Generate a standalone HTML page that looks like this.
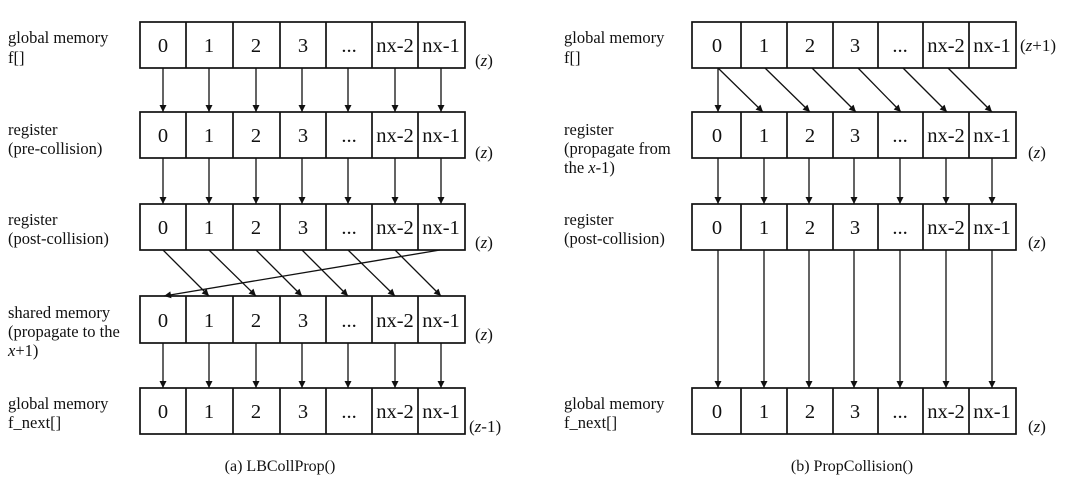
<!DOCTYPE html>
<html><head><meta charset="utf-8"><style>
html,body{margin:0;padding:0;background:#fff}
svg{display:block}
text{font-family:"Liberation Serif",serif;fill:#111}
.c{font-size:20.5px;text-anchor:middle}
.l{font-size:16.5px}
.z{font-size:17px}
.cap{font-size:16px;text-anchor:middle}
rect{fill:none;stroke:#111;stroke-width:1.7}
.a{stroke:#111;stroke-width:1.3;marker-end:url(#ah)}
</style></head><body>
<svg width="1080" height="488" viewBox="0 0 1080 488" xmlns="http://www.w3.org/2000/svg">
<defs><marker id="ah" viewBox="0 0 10 10" refX="10" refY="5" markerWidth="12" markerHeight="7" markerUnits="userSpaceOnUse" orient="auto"><path d="M0,0 L10,5 L0,10 z" fill="#111"/></marker></defs>

<g>
<rect x="140" y="22" width="325" height="46"/>
<rect x="140" y="112" width="325" height="46"/>
<rect x="140" y="204" width="325" height="46"/>
<rect x="140" y="296" width="325" height="47"/>
<rect x="140" y="388" width="325" height="46"/>
</g>
<g stroke="#111" stroke-width="1.7">
<line x1="186" y1="22" x2="186" y2="68"/><line x1="233" y1="22" x2="233" y2="68"/><line x1="280" y1="22" x2="280" y2="68"/><line x1="326" y1="22" x2="326" y2="68"/><line x1="372" y1="22" x2="372" y2="68"/><line x1="418" y1="22" x2="418" y2="68"/>
<line x1="186" y1="112" x2="186" y2="158"/><line x1="233" y1="112" x2="233" y2="158"/><line x1="280" y1="112" x2="280" y2="158"/><line x1="326" y1="112" x2="326" y2="158"/><line x1="372" y1="112" x2="372" y2="158"/><line x1="418" y1="112" x2="418" y2="158"/>
<line x1="186" y1="204" x2="186" y2="250"/><line x1="233" y1="204" x2="233" y2="250"/><line x1="280" y1="204" x2="280" y2="250"/><line x1="326" y1="204" x2="326" y2="250"/><line x1="372" y1="204" x2="372" y2="250"/><line x1="418" y1="204" x2="418" y2="250"/>
<line x1="186" y1="296" x2="186" y2="343"/><line x1="233" y1="296" x2="233" y2="343"/><line x1="280" y1="296" x2="280" y2="343"/><line x1="326" y1="296" x2="326" y2="343"/><line x1="372" y1="296" x2="372" y2="343"/><line x1="418" y1="296" x2="418" y2="343"/>
<line x1="186" y1="388" x2="186" y2="434"/><line x1="233" y1="388" x2="233" y2="434"/><line x1="280" y1="388" x2="280" y2="434"/><line x1="326" y1="388" x2="326" y2="434"/><line x1="372" y1="388" x2="372" y2="434"/><line x1="418" y1="388" x2="418" y2="434"/>
</g>
<g class="c">
<text x="163" y="52">0</text><text x="209" y="52">1</text><text x="256" y="52">2</text><text x="303" y="52">3</text><text x="349" y="52">...</text><text x="395" y="52">nx-2</text><text x="441" y="52">nx-1</text>
<text x="163" y="142">0</text><text x="209" y="142">1</text><text x="256" y="142">2</text><text x="303" y="142">3</text><text x="349" y="142">...</text><text x="395" y="142">nx-2</text><text x="441" y="142">nx-1</text>
<text x="163" y="234">0</text><text x="209" y="234">1</text><text x="256" y="234">2</text><text x="303" y="234">3</text><text x="349" y="234">...</text><text x="395" y="234">nx-2</text><text x="441" y="234">nx-1</text>
<text x="163" y="327">0</text><text x="209" y="327">1</text><text x="256" y="327">2</text><text x="303" y="327">3</text><text x="349" y="327">...</text><text x="395" y="327">nx-2</text><text x="441" y="327">nx-1</text>
<text x="163" y="418">0</text><text x="209" y="418">1</text><text x="256" y="418">2</text><text x="303" y="418">3</text><text x="349" y="418">...</text><text x="395" y="418">nx-2</text><text x="441" y="418">nx-1</text>
</g>
<g>
<line class="a" x1="163" y1="68" x2="163" y2="112"/><line class="a" x1="209" y1="68" x2="209" y2="112"/><line class="a" x1="256" y1="68" x2="256" y2="112"/><line class="a" x1="302" y1="68" x2="302" y2="112"/><line class="a" x1="348" y1="68" x2="348" y2="112"/><line class="a" x1="395" y1="68" x2="395" y2="112"/><line class="a" x1="441" y1="68" x2="441" y2="112"/>
<line class="a" x1="163" y1="158" x2="163" y2="204"/><line class="a" x1="209" y1="158" x2="209" y2="204"/><line class="a" x1="256" y1="158" x2="256" y2="204"/><line class="a" x1="302" y1="158" x2="302" y2="204"/><line class="a" x1="348" y1="158" x2="348" y2="204"/><line class="a" x1="395" y1="158" x2="395" y2="204"/><line class="a" x1="441" y1="158" x2="441" y2="204"/>
<line class="a" x1="163" y1="250" x2="209" y2="296"/><line class="a" x1="209" y1="250" x2="256" y2="296"/><line class="a" x1="256" y1="250" x2="302" y2="296"/><line class="a" x1="302" y1="250" x2="348" y2="296"/><line class="a" x1="348" y1="250" x2="395" y2="296"/><line class="a" x1="395" y1="250" x2="441" y2="296"/>
<line class="a" x1="440" y1="250" x2="164" y2="296"/>
<line class="a" x1="163" y1="343" x2="163" y2="388"/><line class="a" x1="209" y1="343" x2="209" y2="388"/><line class="a" x1="256" y1="343" x2="256" y2="388"/><line class="a" x1="302" y1="343" x2="302" y2="388"/><line class="a" x1="348" y1="343" x2="348" y2="388"/><line class="a" x1="395" y1="343" x2="395" y2="388"/><line class="a" x1="441" y1="343" x2="441" y2="388"/>
</g>
<g class="l">
<text x="8" y="43">global memory</text><text x="8" y="63">f[]</text>
<text x="8" y="135">register</text><text x="8" y="154">(pre-collision)</text>
<text x="8" y="225">register</text><text x="8" y="244">(post-collision)</text>
<text x="8" y="318">shared memory</text><text x="8" y="337">(propagate to the</text><text x="8" y="356"><tspan font-style="italic">x</tspan>+1)</text>
<text x="8" y="409">global memory</text><text x="8" y="428">f_next[]</text>
</g>
<g class="z">
<text x="475" y="66">(<tspan font-style="italic">z</tspan>)</text>
<text x="475" y="158">(<tspan font-style="italic">z</tspan>)</text>
<text x="475" y="248">(<tspan font-style="italic">z</tspan>)</text>
<text x="475" y="340">(<tspan font-style="italic">z</tspan>)</text>
<text x="469" y="432">(<tspan font-style="italic">z</tspan>-1)</text>
</g>
<text class="cap" x="280" y="471">(a)  LBCollProp()</text>

<g>
<rect x="692" y="22" width="324" height="46"/>
<rect x="692" y="112" width="324" height="46"/>
<rect x="692" y="204" width="324" height="46"/>
<rect x="692" y="388" width="324" height="46"/>
</g>
<g stroke="#111" stroke-width="1.7">
<line x1="741" y1="22" x2="741" y2="68"/><line x1="787" y1="22" x2="787" y2="68"/><line x1="833" y1="22" x2="833" y2="68"/><line x1="878" y1="22" x2="878" y2="68"/><line x1="923" y1="22" x2="923" y2="68"/><line x1="969" y1="22" x2="969" y2="68"/>
<line x1="741" y1="112" x2="741" y2="158"/><line x1="787" y1="112" x2="787" y2="158"/><line x1="833" y1="112" x2="833" y2="158"/><line x1="878" y1="112" x2="878" y2="158"/><line x1="923" y1="112" x2="923" y2="158"/><line x1="969" y1="112" x2="969" y2="158"/>
<line x1="741" y1="204" x2="741" y2="250"/><line x1="787" y1="204" x2="787" y2="250"/><line x1="833" y1="204" x2="833" y2="250"/><line x1="878" y1="204" x2="878" y2="250"/><line x1="923" y1="204" x2="923" y2="250"/><line x1="969" y1="204" x2="969" y2="250"/>
<line x1="741" y1="388" x2="741" y2="434"/><line x1="787" y1="388" x2="787" y2="434"/><line x1="833" y1="388" x2="833" y2="434"/><line x1="878" y1="388" x2="878" y2="434"/><line x1="923" y1="388" x2="923" y2="434"/><line x1="969" y1="388" x2="969" y2="434"/>
</g>
<g class="c">
<text x="717" y="52">0</text><text x="764" y="52">1</text><text x="810" y="52">2</text><text x="855" y="52">3</text><text x="900" y="52">...</text><text x="946" y="52">nx-2</text><text x="992" y="52">nx-1</text>
<text x="717" y="142">0</text><text x="764" y="142">1</text><text x="810" y="142">2</text><text x="855" y="142">3</text><text x="900" y="142">...</text><text x="946" y="142">nx-2</text><text x="992" y="142">nx-1</text>
<text x="717" y="234">0</text><text x="764" y="234">1</text><text x="810" y="234">2</text><text x="855" y="234">3</text><text x="900" y="234">...</text><text x="946" y="234">nx-2</text><text x="992" y="234">nx-1</text>
<text x="717" y="418">0</text><text x="764" y="418">1</text><text x="810" y="418">2</text><text x="855" y="418">3</text><text x="900" y="418">...</text><text x="946" y="418">nx-2</text><text x="992" y="418">nx-1</text>
</g>
<g>
<line class="a" x1="718" y1="68" x2="718" y2="112"/>
<line class="a" x1="718" y1="68" x2="763" y2="112"/><line class="a" x1="765" y1="68" x2="810" y2="112"/><line class="a" x1="812" y1="68" x2="856" y2="112"/><line class="a" x1="858" y1="68" x2="901" y2="112"/><line class="a" x1="903" y1="68" x2="947" y2="112"/><line class="a" x1="948" y1="68" x2="992" y2="112"/>
<line class="a" x1="718" y1="158" x2="718" y2="204"/><line class="a" x1="764" y1="158" x2="764" y2="204"/><line class="a" x1="809" y1="158" x2="809" y2="204"/><line class="a" x1="854" y1="158" x2="854" y2="204"/><line class="a" x1="900" y1="158" x2="900" y2="204"/><line class="a" x1="946" y1="158" x2="946" y2="204"/><line class="a" x1="992" y1="158" x2="992" y2="204"/>
<line class="a" x1="718" y1="250" x2="718" y2="388"/><line class="a" x1="764" y1="250" x2="764" y2="388"/><line class="a" x1="809" y1="250" x2="809" y2="388"/><line class="a" x1="854" y1="250" x2="854" y2="388"/><line class="a" x1="900" y1="250" x2="900" y2="388"/><line class="a" x1="946" y1="250" x2="946" y2="388"/><line class="a" x1="992" y1="250" x2="992" y2="388"/>
</g>
<g class="l">
<text x="564" y="43">global memory</text><text x="564" y="63">f[]</text>
<text x="564" y="135">register</text><text x="564" y="154">(propagate from</text><text x="564" y="173">the <tspan font-style="italic">x</tspan>-1)</text>
<text x="564" y="225">register</text><text x="564" y="244">(post-collision)</text>
<text x="564" y="409">global memory</text><text x="564" y="428">f_next[]</text>
</g>
<g class="z">
<text x="1020" y="51">(<tspan font-style="italic">z</tspan>+1)</text>
<text x="1028" y="158">(<tspan font-style="italic">z</tspan>)</text>
<text x="1028" y="248">(<tspan font-style="italic">z</tspan>)</text>
<text x="1028" y="432">(<tspan font-style="italic">z</tspan>)</text>
</g>
<text class="cap" x="852" y="471">(b)  PropCollision()</text>
</svg>
</body></html>
